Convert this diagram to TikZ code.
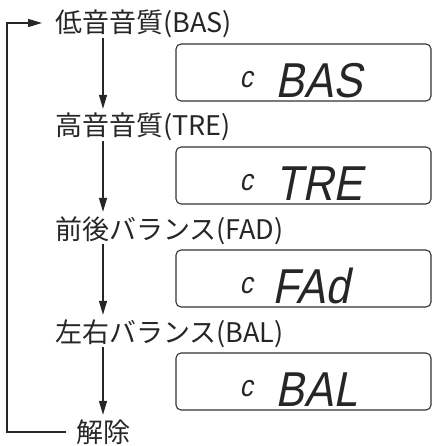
\documentclass[tikz,border=0pt]{standalone}
\usepackage{fontspec}
\newfontfamily\jpfont{Noto Sans CJK JP}
\newfontfamily\lcdfont{Liberation Sans}[FakeSlant=0.2,FakeStretch=0.88]
\usetikzlibrary{arrows.meta}
\tikzset{
  label/.style={anchor=west, inner xsep=0pt, inner ysep=3pt, text height=22pt, text depth=2pt,
    font=\jpfont\fontsize{27}{32}\selectfont, text=black!85},
  lcd/.style={draw=black!80, line width=1.1pt, rounded corners=5pt,
    minimum width=255pt, minimum height=57pt, inner sep=0pt},
  lcdtext/.style={anchor=base west, inner sep=0pt, font=\lcdfont\fontsize{49}{50}\selectfont, text=black!85},
  lcdmark/.style={anchor=base west, inner sep=0pt, font=\lcdfont\fontsize{30}{30}\selectfont, text=black!85},
  flow/.style={line width=1.3pt, draw=black!85, -{Triangle[length=14pt,width=8pt]}},
  loopline/.style={line width=1.3pt, draw=black!85}
}
\begin{document}
\begin{tikzpicture}[x=1pt, y=-1pt]
  \useasboundingbox (0,0) rectangle (432,446);
  \coordinate (rail) at (7,0);
  \coordinate (axis) at (103,0);

  \node[label] (lbas) at (55,23) {低音音質(BAS)};
  \node[lcd] (dbas) at (303.5,72.5) {};
  \node[lcdmark] (cbas) at ([xshift=64pt, yshift=14pt]dbas.south west) {c};
  \node[lcdtext] (tbas) at ([xshift=100pt, yshift=4pt]dbas.south west) {BAS};

  \node[label] (ltre) at (55,126) {高音音質(TRE)};
  \node[lcd] (dtre) at (303.5,175.5) {};
  \node[lcdmark] (ctre) at ([xshift=64pt, yshift=14pt]dtre.south west) {c};
  \node[lcdtext] (ttre) at ([xshift=100pt, yshift=4pt]dtre.south west) {TRE};

  \node[label] (lfad) at (55,229) {前後バランス(FAD)};
  \node[lcd] (dfad) at (303.5,278.5) {};
  \node[lcdmark] (cfad) at ([xshift=64pt, yshift=14pt]dfad.south west) {c};
  \node[lcdtext] (tfad) at ([xshift=97pt, yshift=4pt]dfad.south west) {FAd};

  \node[label] (lbal) at (55,332) {左右バランス(BAL)};
  \node[lcd] (dbal) at (303.5,381.5) {};
  \node[lcdmark] (cbal) at ([xshift=64pt, yshift=14pt]dbal.south west) {c};
  \node[lcdtext] (tbal) at ([xshift=100pt, yshift=4pt]dbal.south west) {BAL};

  \node[label, anchor=center, inner ysep=0pt] (lcancel) at (103,432) {解除};

  \draw[flow, shorten >=2pt] (lbas.south -| axis) -- (ltre.north -| axis);
  \draw[flow, shorten >=2pt] (ltre.south -| axis) -- (lfad.north -| axis);
  \draw[flow, shorten >=2pt] (lfad.south -| axis) -- (lbal.north -| axis);
  \draw[flow, shorten >=5pt] (lbal.south -| axis) -- (lcancel.north -| axis);

  \draw[loopline] ([xshift=-10pt]lcancel.west) -- (lcancel.west -| rail) -- (lbas.west -| rail) -- ([xshift=-28pt]lbas.west);
  \draw[flow] ([xshift=-28pt]lbas.west) -- ([xshift=-13pt]lbas.west);
\end{tikzpicture}
\end{document}
